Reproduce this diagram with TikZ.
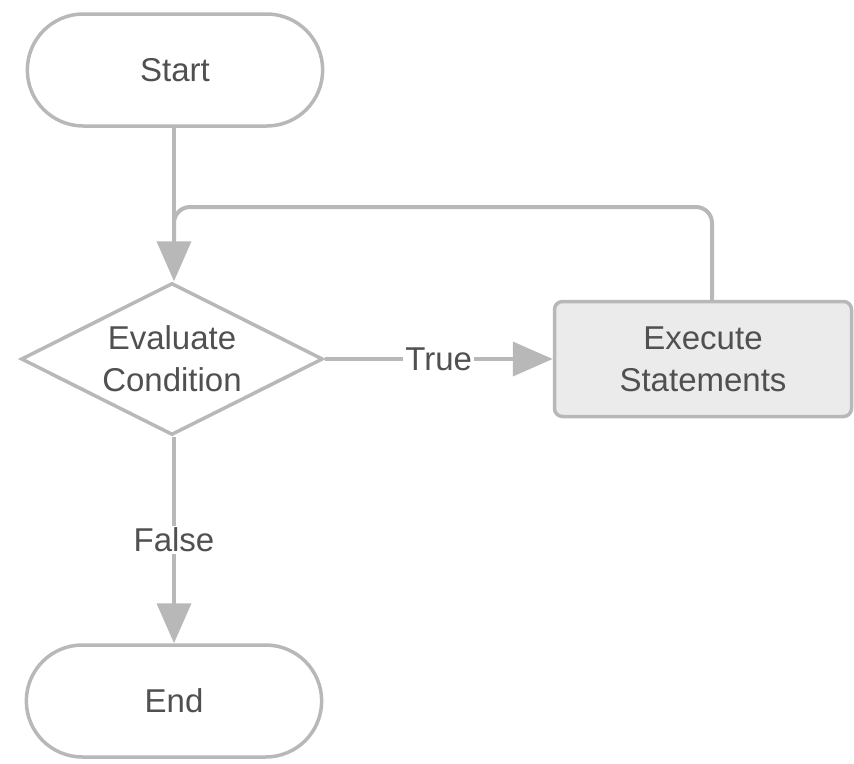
\documentclass[tikz,border=0pt]{standalone}
\usepackage{fontspec}
\setmainfont{Liberation Sans}
\usetikzlibrary{shapes.misc,shapes.geometric,arrows.meta}
\definecolor{edge}{HTML}{B8B8B8}
\definecolor{ink}{HTML}{505050}
\definecolor{boxfill}{HTML}{EBEBEB}
\begin{document}
\begin{tikzpicture}[x=1pt,y=-1pt,
  every node/.style={font=\fontsize{33}{42}\selectfont, text=ink},
  terminal/.style={draw=edge, line width=3.5pt, rounded rectangle, minimum width=302pt, minimum height=112pt, fill=white},
  decision/.style={draw=edge, line width=3.5pt, diamond, aspect=1.99, minimum width=302pt, minimum height=152pt, inner sep=0pt, align=center, fill=white},
  process/.style={draw=edge, line width=3.5pt, rounded corners=8pt, fill=boxfill, minimum width=297pt, minimum height=115pt, align=center},
  flow/.style={draw=edge, line width=4pt},
  flowarrow/.style={flow, -{Triangle[length=40pt,width=34pt]}},
  edgelabel/.style={fill=white, inner sep=2pt}]
\useasboundingbox (0,0) rectangle (854,763);

% nodes
\node[terminal] (start) at (175,70) {Start};
\node[decision] (cond) at (172,359) {Evaluate\\Condition};
\node[process] (exec) at (703,359) {Execute\\Statements};
\node[terminal] (end) at (174,701) {End};

% loop back from the statements to the condition
\coordinate (looptop) at (174,207);
\draw[flow, rounded corners=16pt] (exec.north -| 712,0) |- (looptop) -- (174,245);

% main flow
\draw[flowarrow] (start.south -| 174,0) -- (cond.north -| 174,0);
\draw[flowarrow] (cond.east) -- node[edgelabel] {True} (exec.west);
\draw[flowarrow] (cond.south -| 174,0) -- node[edgelabel, pos=0.5] {False} (end.north -| 174,0);
\end{tikzpicture}
\end{document}
